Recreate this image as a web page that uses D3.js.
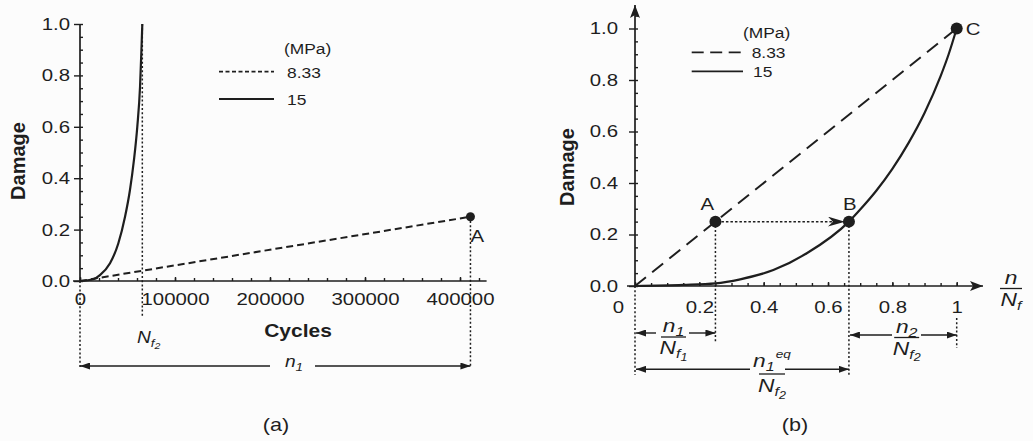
<!DOCTYPE html>
<html><head><meta charset="utf-8">
<script src="https://cdn.jsdelivr.net/npm/d3@7"></script>
<style>
html,body{margin:0;padding:0;background:#fcfcfc;}
svg{display:block;}
text{font-family:"Liberation Sans",Arial,Helvetica,sans-serif;fill:#1e1e1e;}
</style></head><body>
<svg id="c" width="1033" height="441"></svg>
<script>
// ---------- data: panel (a) ----------
const cycles15 = [0, 14000, 21000, 31600, 40300, 47400, 52600, 56800, 60300, 63200, 64900, 65600];
const damage15a = [0, 0.007, 0.023, 0.069, 0.146, 0.250, 0.354, 0.471, 0.600, 0.756, 0.924, 1.0];
const cycles833 = [0, 411000];
const damage833a = [0, 0.25];
const Nf2Cycles = 65600;
const pointA_a = {cycles: 411000, damage: 0.25};
const leftXTicks = [0, 100000, 200000, 300000, 400000];
const leftXTickLabels = ["0", "100000", "200000", "300000", "400000"];
const leftYTicks = [0, 0.2, 0.4, 0.6, 0.8, 1.0];
const leftYTickLabels = ["0.0", "0.2", "0.4", "0.6", "0.8", "1.0"];

// ---------- data: panel (b) ----------
const ratio15 = [0, 0.15, 0.25, 0.327, 0.43, 0.534, 0.665, 0.70, 0.75, 0.80, 0.85, 0.90, 0.95, 0.975, 1.0];
const damage15b = [0, 0.004, 0.010, 0.026, 0.062, 0.127, 0.25, 0.297, 0.37, 0.455, 0.555, 0.672, 0.815, 0.90, 1.0];
const ratio833 = [0, 1];
const damage833b = [0, 1];
const pointsB = [
  {name: "A", r: 0.25, d: 0.25},
  {name: "B", r: 0.665, d: 0.25},
  {name: "C", r: 1.0, d: 1.0}
];
const rightXTicks = [0, 0.2, 0.4, 0.6, 0.8, 1];
const rightXTickLabels = ["0", "0.2", "0.4", "0.6", "0.8", "1"];
const rightYTicks = [0, 0.2, 0.4, 0.6, 0.8, 1.0];
const rightYTickLabels = ["0.0", "0.2", "0.4", "0.6", "0.8", "1.0"];
const legendLabels = ["8.33", "15"];
const legendUnit = "(MPa)";

// ---------- setup ----------
const SX = 1.2;
const ink = "#1e1e1e";
const svg = d3.select("#c");
const defs = svg.append("defs");
defs.append("marker").attr("id", "ah").attr("viewBox", "0 0 10 7")
  .attr("refX", 10).attr("refY", 3.5).attr("markerWidth", 10).attr("markerHeight", 7)
  .attr("markerUnits", "userSpaceOnUse").attr("orient", "auto-start-reverse")
  .append("path").attr("d", "M0,0L10,3.5L0,7Z").attr("fill", ink);
defs.append("marker").attr("id", "barb").attr("viewBox", "0 0 17 10")
  .attr("refX", 17).attr("refY", 5).attr("markerWidth", 17).attr("markerHeight", 10)
  .attr("markerUnits", "userSpaceOnUse").attr("orient", "auto")
  .append("path").attr("d", "M0,0L17,5L0,10L5,5Z").attr("fill", ink);
defs.append("marker").attr("id", "axarrow").attr("viewBox", "0 0 13 10")
  .attr("refX", 13).attr("refY", 5).attr("markerWidth", 13).attr("markerHeight", 10)
  .attr("markerUnits", "userSpaceOnUse").attr("orient", "auto")
  .append("path").attr("d", "M0,0L13,5L0,10L3,5Z").attr("fill", ink);

function T(g, x, y, s, o = {}) {
  const t = g.append("text")
    .attr("transform", `translate(${x},${y}) scale(${o.sx ?? SX},1)`)
    .attr("text-anchor", o.anchor || "start")
    .style("font-size", (o.size || 17) + "px")
    .style("font-weight", o.weight || "normal")
    .style("font-style", o.style || "normal");
  if (s !== null) t.text(s);
  return t;
}
function line(g, x1, y1, x2, y2, o = {}) {
  const l = g.append("line").attr("x1", x1).attr("y1", y1).attr("x2", x2).attr("y2", y2)
    .attr("stroke", ink).attr("stroke-width", o.w || 1.5);
  if (o.dash) l.attr("stroke-dasharray", o.dash);
  if (o.ms) l.attr("marker-start", o.ms);
  if (o.me) l.attr("marker-end", o.me);
  return l;
}
const DOT = "2,2.2";
function sym(g, x, y, main, sub, subsub, sup, o = {}) {
  const big = o.size || 19;
  const t = T(g, x, y, null, {anchor: o.anchor || "middle", style: "italic", size: big});
  t.append("tspan").text(main);
  if (sub) t.append("tspan").text(sub).style("font-size", (big * 0.7) + "px").attr("dy", big * 0.22);
  if (subsub) t.append("tspan").text(subsub).style("font-size", (big * 0.55) + "px").attr("dy", big * 0.14);
  if (sup) t.append("tspan").text(sup).style("font-size", (big * 0.6) + "px").attr("dy", -big * 0.72).attr("dx", 1);
  return t;
}
function frac(g, cx, yb, w, num, den, up = 5, down = 17) {
  sym(g, cx, yb - up, ...num);
  line(g, cx - w / 2, yb, cx + w / 2, yb, {w: 1.3});
  sym(g, cx, yb + down, ...den);
}
function cleanAxis(g) {
  g.attr("font-size", null).attr("font-family", null);
  g.select(".domain").remove();
  g.selectAll("line").attr("stroke", ink).attr("stroke-width", 1.4);
}

// ================= panel (a) =================
const xL = d3.scaleLinear().domain([0, 428000]).range([80, 486.6]);
const yL = d3.scaleLinear().domain([0, 1]).range([281, 24]);
const gA = svg.append("g");

gA.append("g").attr("transform", `translate(0,${yL(0)})`)
  .call(d3.axisBottom(xL).tickValues(d3.range(0, 428000, 20000)).tickFormat("").tickSizeInner(-3).tickSizeOuter(0))
  .call(cleanAxis);
gA.append("g").attr("transform", `translate(${xL(0)},0)`)
  .call(d3.axisLeft(yL).tickValues(d3.range(0, 1.001, 0.05)).tickFormat("").tickSizeInner(-3).tickSizeOuter(0))
  .call(cleanAxis);
const axXa = gA.append("g").attr("transform", `translate(0,${yL(0)})`)
  .call(d3.axisBottom(xL).tickValues(leftXTicks).tickFormat((d, i) => leftXTickLabels[i]).tickSizeInner(-4).tickSizeOuter(0).tickPadding(12))
  .call(cleanAxis);
axXa.selectAll("text").attr("transform", `scale(${SX},1)`).style("font-size", "17px").attr("fill", ink);
const axYa = gA.append("g").attr("transform", `translate(${xL(0)},0)`)
  .call(d3.axisLeft(yL).tickValues(leftYTicks).tickFormat((d, i) => leftYTickLabels[i]).tickSize(6).tickSizeOuter(0))
  .call(cleanAxis);
axYa.selectAll("text").attr("x", -10 / SX).attr("transform", `scale(${SX},1)`).style("font-size", "17px").attr("fill", ink);
line(gA, xL(0) - 7, yL(0), xL.range()[1], yL(0), {w: 1.7});
line(gA, xL(0), yL(0), xL(0), yL(1), {w: 1.7});

const lineA = d3.line().x(d => xL(d[0])).y(d => yL(d[1]));
gA.append("path").datum(cycles833.map((c, i) => [c, damage833a[i]]))
  .attr("d", lineA).attr("fill", "none").attr("stroke", ink).attr("stroke-width", 2).attr("stroke-dasharray", "7,4");
gA.append("path").datum(cycles15.map((c, i) => [c, damage15a[i]]))
  .attr("d", lineA.curve(d3.curveMonotoneX)).attr("fill", "none").attr("stroke", ink).attr("stroke-width", 2.2);

line(gA, xL(0), yL(0), xL(0), 367, {dash: DOT});
line(gA, xL(Nf2Cycles), yL(1), xL(Nf2Cycles), 318, {dash: DOT});
line(gA, xL(pointA_a.cycles), yL(pointA_a.damage), xL(pointA_a.cycles), 367, {dash: DOT});
gA.append("circle").attr("cx", xL(pointA_a.cycles)).attr("cy", yL(pointA_a.damage)).attr("r", 4.5).attr("fill", ink);
T(gA, xL(pointA_a.cycles), 242, "A");

line(gA, xL(0), 366, 270, 366, {ms: "url(#ah)", w: 1.4});
line(gA, 315, 366, xL(pointA_a.cycles), 366, {me: "url(#ah)", w: 1.4});
sym(gA, 294, 367, "n", "1", null, null, {size: 16});

sym(gA, 137, 343, "N", "f", "2", null, {size: 16, anchor: "start"});
T(gA, 298, 337, "Cycles", {anchor: "middle", weight: "bold", size: 17.5});
gA.append("text").attr("transform", "translate(18,161) rotate(-90)").attr("text-anchor", "middle")
  .attr("dominant-baseline", "central").style("font-size", "20px").style("font-weight", "bold").text("Damage");
T(gA, 276, 431, "(a)", {anchor: "middle", size: 18});

T(gA, 284, 54, legendUnit, {size: 14.5});
line(gA, 219, 71.7, 274, 71.7, {dash: "4,2.5", w: 1.7});
T(gA, 287, 78, legendLabels[0], {size: 14.5});
line(gA, 219, 99, 274, 99, {w: 1.8});
T(gA, 287, 105, legendLabels[1], {size: 14.5});

// ================= panel (b) =================
const xR = d3.scaleLinear().domain([0, 1]).range([635, 956.7]);
const yR = d3.scaleLinear().domain([0, 1]).range([286, 28.5]);
const gB = svg.append("g");

gB.append("g").attr("transform", `translate(0,${yR(0)})`)
  .call(d3.axisBottom(xR).tickValues(d3.range(0, 1.001, 0.05)).tickFormat("").tickSizeInner(-3).tickSizeOuter(0))
  .call(cleanAxis);
gB.append("g").attr("transform", `translate(${xR(0)},0)`)
  .call(d3.axisLeft(yR).tickValues(d3.range(0, 1.051, 0.05)).tickFormat("").tickSizeInner(-3).tickSizeOuter(0))
  .call(cleanAxis);
const axXb = gB.append("g").attr("transform", `translate(0,${yR(0)})`)
  .call(d3.axisBottom(xR).tickValues(rightXTicks).tickFormat((d, i) => rightXTickLabels[i]).tickSizeInner(-4).tickSizeOuter(0).tickPadding(15))
  .call(cleanAxis);
axXb.selectAll("text").attr("transform", `scale(${SX},1)`).style("font-size", "17px").attr("fill", ink)
  .attr("x", d => d === 0 ? -17 / SX : 0);
const axYb = gB.append("g").attr("transform", `translate(${xR(0)},0)`)
  .call(d3.axisLeft(yR).tickValues(rightYTicks).tickFormat((d, i) => rightYTickLabels[i]).tickSize(6).tickSizeOuter(0))
  .call(cleanAxis);
axYb.selectAll("text").attr("x", -17 / SX).attr("transform", `scale(${SX},1)`).style("font-size", "17px").attr("fill", ink);

line(gB, xR(0) - 8, yR(0), 983, yR(0), {w: 1.7, me: "url(#axarrow)"});
line(gB, xR(0), yR(0), xR(0), 5, {w: 1.7, me: "url(#axarrow)"});

const lineB = d3.line().x(d => xR(d[0])).y(d => yR(d[1]));
gB.append("path").datum(ratio833.map((r, i) => [r, damage833b[i]]))
  .attr("d", lineB).attr("fill", "none").attr("stroke", ink).attr("stroke-width", 2).attr("stroke-dasharray", "14,8");
gB.append("path").datum(ratio15.map((r, i) => [r, damage15b[i]]))
  .attr("d", d3.line().x(d => xR(d[0])).y(d => yR(d[1])).curve(d3.curveMonotoneX))
  .attr("fill", "none").attr("stroke", ink).attr("stroke-width", 2.2);

const pA = pointsB[0], pB = pointsB[1], pC = pointsB[2];
line(gB, xR(0), yR(0), xR(0), 375, {dash: DOT});
line(gB, xR(pA.r), yR(pA.d), xR(pA.r), 343, {dash: DOT});
line(gB, xR(pB.r), yR(pB.d), xR(pB.r), 375, {dash: DOT});
line(gB, xR(1), 318, xR(1), 348, {dash: DOT});
line(gB, xR(pA.r) + 6, yR(pA.d), xR(pB.r) - 4, yR(pB.d), {dash: "2.5,2", me: "url(#barb)"});
pointsB.forEach(p => {
  gB.append("circle").attr("cx", xR(p.r)).attr("cy", yR(p.d)).attr("r", 6).attr("fill", ink);
});
T(gB, xR(pA.r) - 8, 210, "A", {anchor: "middle"});
T(gB, xR(pB.r) + 1, 210, "B", {anchor: "middle"});
T(gB, xR(pC.r) + 9, 35, "C");

line(gB, xR(0) + 1, 333, 656, 333, {ms: "url(#ah)", w: 1.4});
line(gB, 689, 333, xR(pA.r), 333, {me: "url(#ah)", w: 1.4});
frac(gB, 673.5, 337, 25, ["n", "1", null, null], ["N", "f", "1", null]);

line(gB, xR(0) + 1, 369.3, 750, 369.3, {ms: "url(#ah)", w: 1.4});
line(gB, 785, 369.3, xR(pB.r), 369.3, {me: "url(#ah)", w: 1.4});
frac(gB, 772, 374, 26, ["n", "1", null, "eq"], ["N", "f", "2", null], 7, 18);

line(gB, xR(pB.r) + 1, 335, 892, 335, {ms: "url(#ah)", w: 1.4});
line(gB, 921, 335, xR(1), 335, {me: "url(#ah)", w: 1.4});
frac(gB, 906.7, 337.5, 25, ["n", "2", null, null], ["N", "f", "2", null]);

frac(gB, 1011, 288.5, 22, ["n", null, null, null], ["N", "f", null, null]);

gB.append("text").attr("transform", "translate(566.7,167) rotate(-90)").attr("text-anchor", "middle")
  .attr("dominant-baseline", "central").style("font-size", "20px").style("font-weight", "bold").text("Damage");
T(gB, 795, 431, "(b)", {anchor: "middle", size: 18});

T(gB, 743, 37.5, legendUnit, {size: 14.5});
line(gB, 691.7, 52.3, 744, 52.3, {dash: "12,6.5", w: 1.7});
T(gB, 751.7, 58, legendLabels[0], {size: 14.5});
line(gB, 691.7, 71.3, 743, 71.3, {w: 1.8});
T(gB, 753, 77, legendLabels[1], {size: 14.5});
</script>
</body></html>
